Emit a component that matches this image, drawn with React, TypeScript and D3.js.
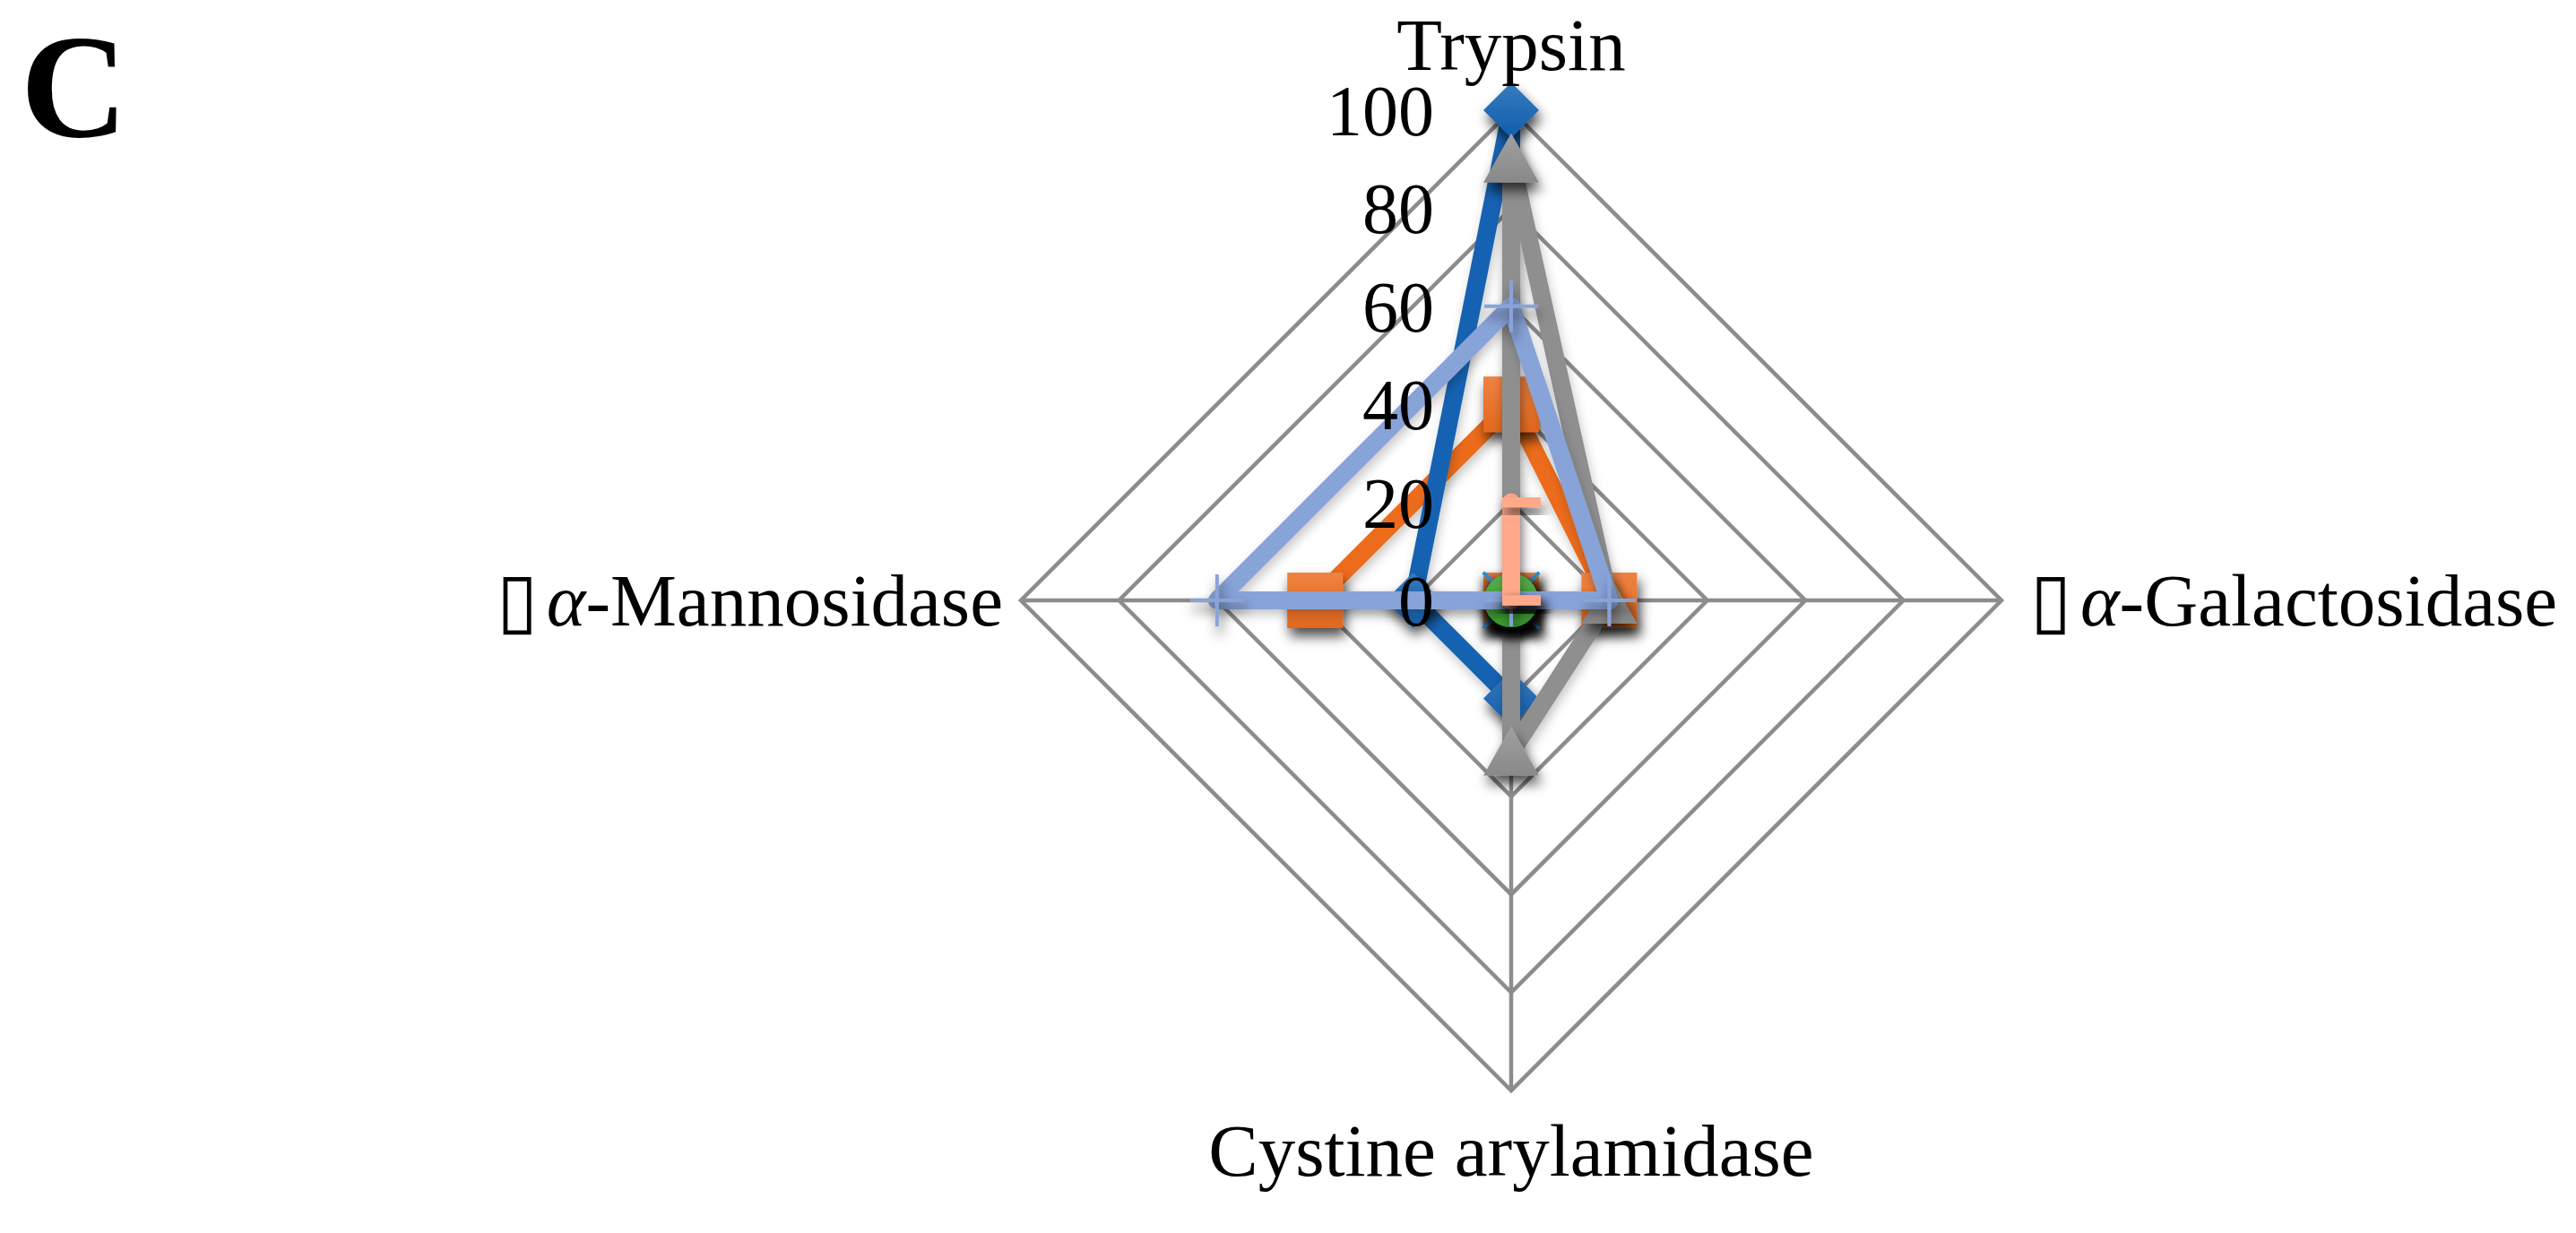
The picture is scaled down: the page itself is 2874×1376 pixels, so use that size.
import React from "react";
import * as d3 from "d3";

const categories = ["Trypsin", "\u25AFα-Galactosidase", "Cystine arylamidase", "\u25AFα-Mannosidase"];
const ticks = [0, 20, 40, 60, 80, 100];

const blueDiamond = [100, 0, 20, 20];
const orangeSquare = [40, 20, 0, 40];
const grayTriangle = [90, 20, 31, 0];
const skyCross = [0, 0, 0, 0];
const greenCircle = [0, 0, 0, 0];
const lightBluePlus = [60, 20, 0, 60];
const salmonDash = [20, 0, 0, 0];

type Marker = "diamond" | "square" | "triangle" | "x" | "circle" | "plus" | "dash";
const seriesList: { id: string; values: number[]; color: string; marker: Marker }[] = [
  { id: "s2", values: orangeSquare, color: "#EC6C1F", marker: "square" },
  { id: "s1", values: blueDiamond, color: "#1262B2", marker: "diamond" },
  { id: "s3", values: grayTriangle, color: "#8F8F8F", marker: "triangle" },
  { id: "s4", values: skyCross, color: "#2B8ED3", marker: "x" },
  { id: "s5", values: greenCircle, color: "#3A9E2E", marker: "circle" },
  { id: "s6", values: lightBluePlus, color: "#88A3D8", marker: "plus" },
  { id: "s7", values: salmonDash, color: "#FFA98A", marker: "dash" },
];

const W = 2874;
const H = 1376;
const cx = 1686;
const cy = 670;
const R = 547;
const FONT = "'Liberation Serif', 'Times New Roman', serif";
const FS = 83;

function lighten(c: string, k: number) {
  return d3.interpolateRgb(c, "#ffffff")(k);
}
function darken(c: string, k: number) {
  return d3.interpolateRgb(c, "#000000")(k);
}

function MarkerShape({ type, color, id }: { type: Marker; color: string; id: string }) {
  const fill = `url(#grad-${id})`;
  switch (type) {
    case "diamond":
      return <path d="M0,-31L31,0L0,31L-31,0Z" fill={fill} />;
    case "square":
      return <rect x={-31} y={-31} width={62} height={62} fill={fill} />;
    case "triangle":
      return <path d="M0,-29L31,26L-31,26Z" fill={fill} />;
    case "circle":
      return <circle r={30} fill={fill} />;
    case "x":
      return <path d="M-31,-31L31,31M31,-31L-31,31" stroke={color} strokeWidth={3.5} fill="none" />;
    case "plus":
      return <path d="M-30,0L30,0M0,-29L0,29" stroke={color} strokeWidth={4} fill="none" />;
    case "dash":
      return <rect x={-10} y={-5.5} width={43} height={11} fill={color} />;
  }
}

function CatLabel({ text, x, y, anchor }: { text: string; x: number; y: number; anchor: string }) {
  const parts = text.split("α");
  if (parts.length === 1) {
    return (
      <text x={x} y={y} textAnchor={anchor} fontFamily={FONT} fontSize={FS} fill="#000">
        {text}
      </text>
    );
  }
  return (
    <text x={x} y={y} textAnchor={anchor} fontFamily={FONT} fontSize={FS} fill="#000">
      <tspan fontFamily="'DejaVu Sans', sans-serif" fontWeight={200} fontSize={84}>
        {parts[0]}
      </tspan>
      <tspan fontStyle="italic" dx={10}>α</tspan>
      <tspan>{parts[1]}</tspan>
    </text>
  );
}

export default function App() {
  const r = d3.scaleLinear().domain([0, 100]).range([0, R]);
  const n = categories.length;
  const angle = d3.scaleLinear().domain([0, n]).range([0, 2 * Math.PI]);
  const radial = d3
    .lineRadial<number>()
    .angle((_, i) => angle(i))
    .radius((d) => r(d))
    .curve(d3.curveLinearClosed);
  const pt = (v: number, i: number) => [r(v) * Math.sin(angle(i)), -r(v) * Math.cos(angle(i))];

  const gridTicks = ticks.filter((t) => t > 0);
  const maxV = ticks[ticks.length - 1];

  const labelPos = categories.map((c, i) => {
    const [x, y] = pt(maxV, i);
    if (i === 0) return { x, y: y - 45, anchor: "middle" };
    if (i === 1) return { x: x + 32, y: y + 28, anchor: "start" };
    if (i === 2) return { x, y: y + 95, anchor: "middle" };
    return { x: x - 20, y: y + 28, anchor: "end" };
  });

  return (
    <svg
      width={W}
      height={H}
      viewBox={`0 0 ${W} ${H}`}
      style={{ position: "fixed", left: 0, top: 0, background: "#fff" }}
    >
      <defs>
        <filter id="shadow" x="-60%" y="-60%" width="220%" height="240%">
          <feDropShadow dx={3} dy={9} stdDeviation={7} floodColor="#000" floodOpacity={0.7} />
        </filter>
        <filter id="lshadow" filterUnits="userSpaceOnUse" x={-800} y={-800} width={1600} height={1600}>
          <feDropShadow dx={2} dy={6} stdDeviation={6} floodColor="#000" floodOpacity={0.22} />
        </filter>
        {seriesList.map((s) => (
          <linearGradient key={s.id} id={`grad-${s.id}`} x1="0" y1="0" x2="0" y2="1">
            <stop offset="0" stopColor={lighten(s.color, 0.15)} />
            <stop offset="1" stopColor={darken(s.color, 0.04)} />
          </linearGradient>
        ))}
      </defs>
      <rect width={W} height={H} fill="#fff" />

      <text x={23} y={152} fontFamily={FONT} fontWeight="bold" fontSize={165} fill="#000">
        C
      </text>

      <g transform={`translate(${cx},${cy})`}>
        {gridTicks.map((t) => (
          <path
            key={t}
            d={radial(categories.map(() => t)) || ""}
            fill="none"
            stroke="#8C8C8C"
            strokeWidth={4.5}
          />
        ))}
        {categories.map((c, i) => {
          const [x, y] = pt(maxV, i);
          return <line key={c} x1={0} y1={0} x2={x} y2={y} stroke="#8C8C8C" strokeWidth={4.5} />;
        })}

        {seriesList.map((s) => (
          <g key={s.id}>
            <path
              d={radial(s.values) || ""}
              fill="none"
              stroke={s.color}
              strokeWidth={20}
              strokeLinejoin="round"
              strokeLinecap="round"
              filter="url(#lshadow)"
            />
            {s.values.map((v, i) => {
              const [x, y] = pt(v, i);
              return (
                <g key={i} transform={`translate(${x},${y})`} filter="url(#shadow)">
                  <MarkerShape type={s.marker} color={s.color} id={s.id} />
                </g>
              );
            })}
          </g>
        ))}

        {ticks.map((t) => (
          <text
            key={t}
            x={-86}
            y={-r(t)}
            dy="0.35em"
            textAnchor="end"
            fontFamily={FONT}
            fontSize={80}
            fill="#000"
          >
            {t}
          </text>
        ))}

        {categories.map((c, i) => (
          <CatLabel key={c} text={c} x={labelPos[i].x} y={labelPos[i].y} anchor={labelPos[i].anchor} />
        ))}
      </g>
    </svg>
  );
}
